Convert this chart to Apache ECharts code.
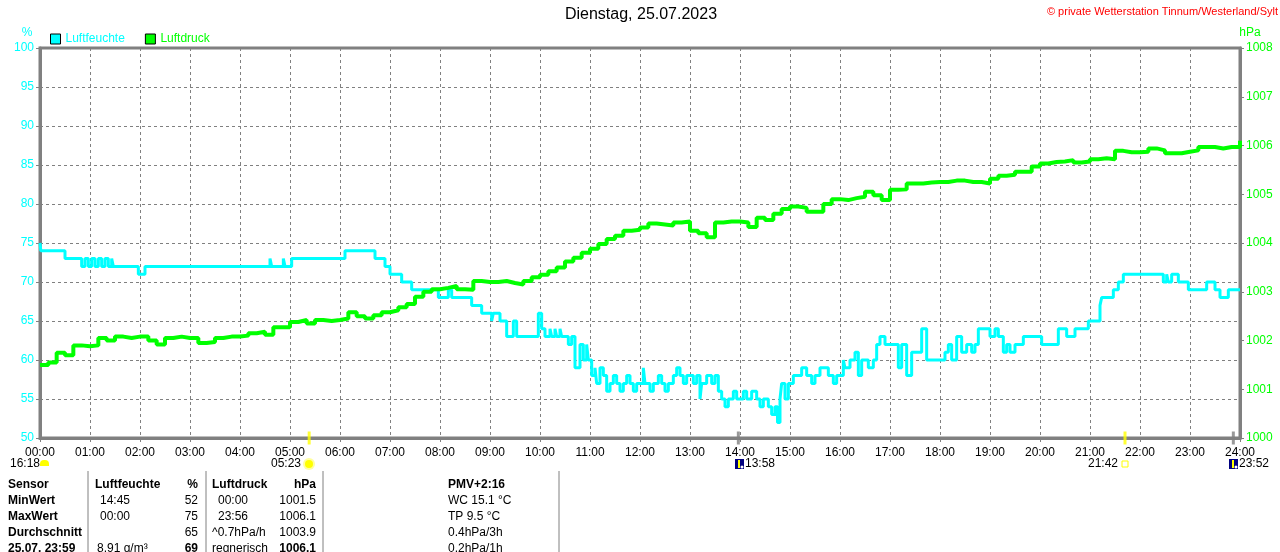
<!DOCTYPE html>
<html>
	<head>
		<meta charset="utf-8">
		<title>Dienstag, 25.07.2023</title>
		<style type="text/css">
			html, body {
				margin: 0;
				padding: 0;
				background: #fff;
			}

			#chart {
				width: 1280px;
				height: 552px;
			}
		</style>
	</head>
	<body>
		<div id="chart"></div>

		<script src="https://cdn.jsdelivr.net/npm/echarts@6/dist/echarts.min.js"></script>
		<script>
			// Luftfeuchte: Wechselpunkte (Zeit, Wert in %)
			var humTimes = [
				'00:00', '00:01', '00:30', '00:50', '00:54', '00:58', '01:02', '01:06', '01:10', '01:14',
				'01:18', '01:22', '01:26', '01:28', '01:58', '02:06', '04:36', '04:38', '04:52', '04:54',
				'05:02', '06:06', '06:42', '06:54', '07:00', '07:14', '07:26', '07:58', '08:10', '08:14',
				'08:38', '08:50', '09:02', '09:04', '09:12', '09:20', '09:28', '09:32', '09:58', '10:02',
				'10:06', '10:12', '10:14', '10:18', '10:20', '10:24', '10:26', '10:34', '10:38', '10:42',
				'10:48', '10:52', '10:56', '10:58', '11:02', '11:06', '11:08', '11:12', '11:16', '11:20',
				'11:24', '11:28', '11:32', '11:36', '11:40', '11:44', '11:48', '11:52', '11:56', '12:04',
				'12:06', '12:12', '12:16', '12:22', '12:26', '12:30', '12:34', '12:40', '12:44', '12:48',
				'12:52', '12:56', '13:04', '13:08', '13:12', '13:14', '13:20', '13:26', '13:30', '13:34',
				'13:38', '13:42', '13:46', '13:52', '13:56', '14:04', '14:08', '14:14', '14:20', '14:24',
				'14:28', '14:34', '14:38', '14:42', '14:45', '14:48', '14:50', '14:54', '14:58', '15:04',
				'15:14', '15:20', '15:26', '15:30', '15:36', '15:46', '15:52', '15:56', '16:04', '16:06',
				'16:12', '16:18', '16:22', '16:26', '16:34', '16:40', '16:44', '16:48', '16:54', '17:10',
				'17:14', '17:20', '17:26', '17:38', '17:44', '18:06', '18:10', '18:14', '18:20', '18:26',
				'18:32', '18:38', '18:42', '18:46', '19:00', '19:06', '19:10', '19:16', '19:20', '19:24',
				'19:30', '19:40', '20:02', '20:22', '20:32', '20:42', '20:58', '21:12', '21:14', '21:28',
				'21:34', '21:40', '22:28', '22:32', '22:34', '22:38', '22:46', '22:58', '23:20', '23:30',
				'23:36', '23:46', '24:00'
			];
			var humValues = [
				75, 74, 73, 72, 73, 72, 73, 72, 73, 72,
				73, 72, 73, 72, 71, 72, 73, 72, 73, 72,
				73, 74, 73, 72, 71, 70, 69, 68, 69, 68,
				67, 66, 65, 66, 65, 63, 65, 63, 66, 64,
				63, 64, 63, 64, 63, 64, 63, 62, 63, 59,
				62, 60, 62, 60, 58, 59, 57, 59, 58, 56,
				57, 58, 57, 56, 57, 58, 57, 56, 57, 59,
				57, 56, 57, 58, 57, 56, 57, 58, 59, 58,
				57, 58, 57, 58, 55, 57, 58, 57, 58, 56,
				55, 54, 55, 56, 55, 56, 55, 56, 55, 54,
				55, 54, 53, 54, 52, 55, 57, 55, 57, 58,
				59, 58, 57, 58, 59, 58, 57, 58, 60, 59,
				60, 61, 58, 60, 59, 60, 62, 63, 62, 59,
				62, 58, 61, 64, 60, 61, 62, 60, 63, 61,
				62, 61, 62, 64, 63, 64, 63, 61, 62, 61,
				62, 63, 62, 64, 63, 64, 65, 67, 68, 69,
				70, 71, 70, 71, 70, 71, 70, 69, 70, 69,
				68, 69, 69
			];

			// Luftdruck: alle 10 Minuten ab 00:00 (hPa)
			var presValues = [
				1001.5, 1001.55, 1001.75, 1001.7, 1001.9, 1001.88,
				1001.9, 1002.05, 1002.0, 1002.08, 1002.05, 1002.08,
				1002.08, 1002.0, 1001.92, 1002.05, 1002.08, 1002.05,
				1002.05, 1001.95, 1001.97, 1002.05, 1002.08, 1002.08,
				1002.1, 1002.15, 1002.18, 1002.12, 1002.27, 1002.27,
				1002.38, 1002.42, 1002.35, 1002.42, 1002.4, 1002.42,
				1002.45, 1002.58, 1002.5, 1002.45, 1002.52, 1002.58,
				1002.62, 1002.68, 1002.75, 1002.9, 1003.0, 1003.05,
				1003.08, 1003.12, 1003.05, 1003.04, 1003.22, 1003.2,
				1003.2, 1003.22, 1003.18, 1003.15, 1003.22, 1003.3,
				1003.35, 1003.42, 1003.5, 1003.62, 1003.7, 1003.8,
				1003.88, 1003.98, 1004.08, 1004.15, 1004.25, 1004.27,
				1004.32, 1004.4, 1004.38, 1004.36, 1004.42, 1004.44,
				1004.25, 1004.2, 1004.12, 1004.42, 1004.44, 1004.44,
				1004.42, 1004.33, 1004.52, 1004.47, 1004.6, 1004.7,
				1004.75, 1004.72, 1004.64, 1004.64, 1004.8, 1004.9,
				1004.88, 1004.92, 1004.95, 1005.05, 1004.98, 1004.88,
				1005.09, 1005.1, 1005.22, 1005.22, 1005.24, 1005.25,
				1005.25, 1005.28, 1005.28, 1005.25, 1005.25, 1005.22,
				1005.32, 1005.38, 1005.4, 1005.46, 1005.46, 1005.57,
				1005.63, 1005.66, 1005.67, 1005.7, 1005.65, 1005.67,
				1005.72, 1005.74, 1005.72, 1005.89, 1005.86, 1005.86,
				1005.87, 1005.94, 1005.9, 1005.84, 1005.84, 1005.87,
				1005.9, 1005.97, 1005.97, 1005.94, 1005.97, 1005.97,
				1006.1
			];

			// Sonne / Mond Zeiten auf der Achse
			var eventTimes = ['05:23', '13:58', '21:42', '23:52'];
			var eventColors = ['#FFFF00', '#808080', '#FFFF00', '#808080'];

			var FONT = '"Liberation Sans", Arial, sans-serif';

			function toMin(t) {
				var p = t.split(':');
				return parseInt(p[0]) * 60 + parseInt(p[1]);
			}

			function pad(n) {
				return (n < 10 ? '0' : '') + n;
			}

			var humData = humTimes.map(function(t, i) {
				return [toMin(t), humValues[i]];
			});
			var presData = presValues.map(function(v, i) {
				return [i * 10, v];
			});
			var eventData = eventTimes.map(function(t, i) {
				return {
					value: [toMin(t), 50],
					itemStyle: { color: eventColors[i] }
				};
			});

			// Tabelle unten
			var g = [];

			function txt(x, y, s, opt) {
				opt = opt || {};
				g.push({
					type: 'text',
					silent: true,
					style: {
						x: x,
						y: y,
						text: s,
						fill: opt.color || '#000',
						font: (opt.bold ? 'bold ' : '') + (opt.size || 12) + 'px ' + FONT,
						align: opt.align || 'left',
						verticalAlign: 'middle'
					}
				});
			}

			function vline(x, y1, y2) {
				g.push({
					type: 'line',
					silent: true,
					shape: { x1: x, y1: y1, x2: x, y2: y2 },
					style: { stroke: '#808080', lineWidth: 1 }
				});
			}

			txt(641, 15, 'Dienstag, 25.07.2023', { size: 16, align: 'center' });
			txt(1278, 12, '\u00a9 private Wetterstation Tinnum/Westerland/Sylt', { size: 11, align: 'right', color: '#FF0000' });
			txt(27, 33, '%', { color: '#00FFFF', align: 'center' });
			txt(1250, 33, 'hPa', { color: '#00FF00', align: 'center' });

			// Auf-/Untergang
			txt(10, 464, '16:18');
			txt(301, 464, '05:23', { align: 'right' });
			txt(745, 464, '13:58');
			txt(1118, 464, '21:42', { align: 'right' });
			txt(1239, 464, '23:52');

			g.push({ type: 'rect', silent: true, shape: { x: 40, y: 460, width: 9, height: 6, r: [4, 4, 0, 0] }, style: { fill: '#FFFF00' } });
			g.push({ type: 'circle', silent: true, shape: { cx: 309, cy: 464, r: 6 }, style: { fill: '#FFFFA0' } });
			g.push({ type: 'circle', silent: true, shape: { cx: 309, cy: 464, r: 4 }, style: { fill: '#FFFF00' } });
			g.push({ type: 'rect', silent: true, shape: { x: 1122, y: 461, width: 6, height: 6 }, style: { fill: 'none', stroke: '#FFFF00', lineWidth: 1 } });
			[735, 1229].forEach(function(x) {
				g.push({ type: 'rect', silent: true, shape: { x: x, y: 459, width: 9, height: 10 }, style: { fill: '#000080' } });
				g.push({ type: 'line', silent: true, shape: { x1: x + 4, y1: 460, x2: x + 4, y2: 468 }, style: { stroke: '#FFFF00', lineWidth: 2 } });
				g.push({ type: 'circle', silent: true, shape: { cx: x + 7, cy: 467, r: 1.5 }, style: { fill: '#fff' } });
			});

			vline(88, 471, 552);
			vline(206, 471, 552);
			vline(323, 471, 552);
			vline(559, 471, 552);

			var rows = [485, 501, 517, 533, 549];
			txt(8, rows[0], 'Sensor', { bold: true });
			txt(8, rows[1], 'MinWert', { bold: true });
			txt(8, rows[2], 'MaxWert', { bold: true });
			txt(8, rows[3], 'Durchschnitt', { bold: true });
			txt(8, rows[4], '25.07. 23:59', { bold: true });

			txt(95, rows[0], 'Luftfeuchte', { bold: true });
			txt(100, rows[1], '14:45');
			txt(100, rows[2], '00:00');
			txt(97, rows[4], '8.91 g/m\u00b3');

			txt(198, rows[0], '%', { bold: true, align: 'right' });
			txt(198, rows[1], '52', { align: 'right' });
			txt(198, rows[2], '75', { align: 'right' });
			txt(198, rows[3], '65', { align: 'right' });
			txt(198, rows[4], '69', { bold: true, align: 'right' });

			txt(212, rows[0], 'Luftdruck', { bold: true });
			txt(218, rows[1], '00:00');
			txt(218, rows[2], '23:56');
			txt(212, rows[3], '^0.7hPa/h');
			txt(212, rows[4], 'regnerisch');

			txt(316, rows[0], 'hPa', { bold: true, align: 'right' });
			txt(316, rows[1], '1001.5', { align: 'right' });
			txt(316, rows[2], '1006.1', { align: 'right' });
			txt(316, rows[3], '1003.9', { align: 'right' });
			txt(316, rows[4], '1006.1', { bold: true, align: 'right' });

			txt(448, rows[0], 'PMV+2:16', { bold: true });
			txt(448, rows[1], 'WC 15.1 \u00b0C');
			txt(448, rows[2], 'TP 9.5 \u00b0C');
			txt(448, rows[3], '0.4hPa/3h');
			txt(448, rows[4], '0.2hPa/1h');

			var myChart = echarts.init(document.getElementById('chart'), null, { renderer: 'canvas' });

			var gridLine = {
				show: true,
				lineStyle: { color: '#808080', type: [3, 3], width: 1 }
			};

			var option = {
				backgroundColor: '#fff',
				animation: false,
				textStyle: { fontFamily: FONT },
				legend: {
					left: 50,
					top: 33,
					padding: 0,
					icon: 'rect',
					itemWidth: 10,
					itemHeight: 10,
					itemGap: 20,
					itemStyle: { borderColor: '#000', borderWidth: 1 },
					textStyle: { fontSize: 12, fontFamily: FONT },
					data: [
						{ name: 'Luftfeuchte', textStyle: { color: '#00FFFF' } },
						{ name: 'Luftdruck', textStyle: { color: '#00FF00' } }
					]
				},
				grid: {
					left: 40,
					right: 40,
					top: 48,
					bottom: 114,
					show: true,
					borderColor: '#808080',
					borderWidth: 3
				},
				xAxis: {
					type: 'value',
					min: 0,
					max: 1440,
					interval: 60,
					axisLine: { show: true, lineStyle: { color: '#808080', width: 3 } },
					axisTick: { show: true, length: 4, lineStyle: { color: '#808080' } },
					axisLabel: {
						color: '#000',
						fontSize: 12,
						margin: 9,
						formatter: function(v) {
							return pad(v / 60) + ':00';
						}
					},
					splitLine: gridLine
				},
				yAxis: [{
					type: 'value',
					min: 50,
					max: 100,
					interval: 5,
					axisLine: { show: true, lineStyle: { color: '#808080', width: 3 } },
					axisTick: { show: true, length: 4, lineStyle: { color: '#808080' } },
					axisLabel: { color: '#00FFFF', fontSize: 12, margin: 6 },
					splitLine: gridLine
				}, {
					type: 'value',
					min: 1000,
					max: 1008,
					interval: 1,
					position: 'right',
					axisLine: { show: true, lineStyle: { color: '#808080', width: 3 } },
					axisTick: { show: true, length: 4, lineStyle: { color: '#808080' } },
					axisLabel: {
						color: '#00FF00',
						fontSize: 12,
						margin: 6,
						formatter: function(v) {
							return String(v);
						}
					},
					splitLine: { show: false }
				}],
				graphic: g,
				series: [{
					name: 'Luftfeuchte',
					type: 'line',
					step: 'end',
					yAxisIndex: 0,
					showSymbol: false,
					color: '#00FFFF',
					lineStyle: { color: '#00FFFF', width: 3 },
					data: humData
				}, {
					name: 'Luftdruck',
					type: 'line',
					step: 'end',
					yAxisIndex: 1,
					showSymbol: false,
					color: '#00FF00',
					lineStyle: { color: '#00FF00', width: 4 },
					data: presData
				}, {
					name: 'Ereignisse',
					type: 'scatter',
					yAxisIndex: 0,
					symbol: 'rect',
					symbolSize: [3, 13],
					clip: false,
					z: 5,
					silent: true,
					data: eventData
				}]
			};

			myChart.setOption(option);
		</script>
	</body>
</html>
